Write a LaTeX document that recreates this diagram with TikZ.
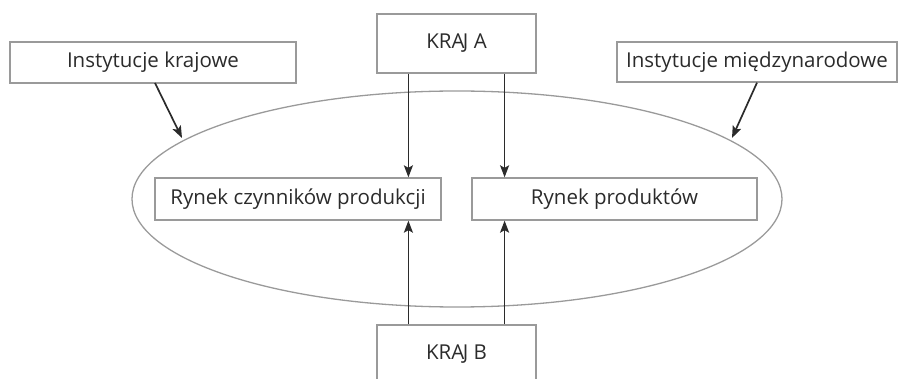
\documentclass[tikz,border=0pt]{standalone}
\usepackage{fontspec}
\setmainfont{Open Sans}
\usetikzlibrary{arrows.meta,shapes.geometric,calc}
\definecolor{boxgray}{HTML}{9A9A9A}
\definecolor{txt}{HTML}{2B2B2B}
\begin{document}
\begin{tikzpicture}[x=1pt,y=-1pt,
  box/.style={draw=boxgray,line width=1.3pt,rectangle,inner sep=0pt,text=txt,font=\fontsize{20.5}{24}\selectfont},
  arr/.style={draw=txt,line width=1.7pt,-{Stealth[length=12pt,width=9pt,inset=2.5pt]}}]
\useasboundingbox (0,0) rectangle (898,379);
\clip (0,0) rectangle (898,379);
\node[draw=boxgray,line width=1.3pt,ellipse,minimum width=650pt,minimum height=216pt,inner sep=0pt] (el) at (457,199) {};
\node[box,minimum width=286pt,minimum height=41pt] (ik) at (153,62.5) {Instytucje krajowe};
\node[box,minimum width=159pt,minimum height=59pt] (kA) at (456.5,43.5) {KRA\kern-1.5pt J A};
\node[box,minimum width=280pt,minimum height=40pt] (im) at (757,62) {Instytucje międzynarodowe};
\node[box,minimum width=286pt,minimum height=42pt] (rc) at (298,199) {Rynek czynników produkcji};
\node[box,minimum width=285pt,minimum height=42pt] (rp) at (614.5,199) {Rynek produktów};
\node[box,minimum width=159pt,minimum height=59pt] (kB) at (456.5,354.5) {KRA\kern-1.5pt J B};
\coordinate (a1) at ($(kA.south west)!0.2!(kA.south east)$);
\coordinate (a2) at ($(kA.south west)!0.8!(kA.south east)$);
\coordinate (b1) at ($(kB.north west)!0.2!(kB.north east)$);
\coordinate (b2) at ($(kB.north west)!0.8!(kB.north east)$);
\draw[arr] (a1) -- (a1 |- rc.north);
\draw[arr] (a2) -- (a2 |- rp.north);
\draw[arr] (b1) -- (b1 |- rc.south);
\draw[arr] (b2) -- (b2 |- rp.south);
\coordinate (ikS) at (155,83);
\coordinate (elL) at (182,138);
\coordinate (elR) at (732,138);
\draw[arr] (ikS) -- (elL);
\draw[arr] (im.south) -- (elR);
\end{tikzpicture}
\end{document}
